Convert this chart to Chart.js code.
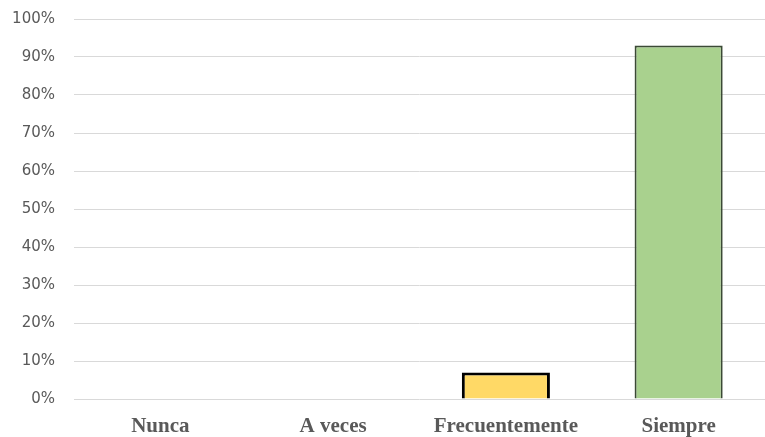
<!DOCTYPE html>
<html>
<head>
<meta charset="utf-8">
<script src="https://cdn.jsdelivr.net/npm/chart.js@4/dist/chart.umd.min.js"></script>
<style>
  html, body { margin: 0; padding: 0; background: #fff; }
  #Chart { display: block; }
</style>
</head>
<body>
<canvas id="Chart" width="765" height="437"></canvas>
<script>
// categorias y porcentajes
const categorias = ['Nunca', 'A veces', 'Frecuentemente', 'Siempre'];
const porcentajes = [0, 0, 0.07, 0.93];
const colores = ['#ffd966', '#ffd966', '#ffd966', '#a9d18e'];
const bordes = ['#000000', '#000000', '#000000', '#3b4a35'];
const grosor = [0, 0, 3, 2];

const ctx = document.getElementById('Chart');
const grafiek = new Chart(ctx, {
  type: 'bar',
  data: {
    labels: categorias,
    datasets: [{
      label: 'Respuestas',
      data: porcentajes,
      backgroundColor: colores,
      borderColor: bordes,
      borderWidth: grosor,
      barPercentage: 0.51,
      categoryPercentage: 1
    }]
  },
  options: {
    responsive: false,
    animation: false,
    layout: { padding: { top: 19, left: 10, right: -5, bottom: 0 } },
    plugins: {
      legend: { display: false },
      tooltip: { enabled: false }
    },
    scales: {
      x: {
        grid: { display: false },
        border: { display: false },
        afterFit: s => { s.height = 38; },
        ticks: {
          color: '#595959',
          padding: 7,
          font: { family: '"Liberation Serif", serif', size: 21, weight: 'bold' }
        }
      },
      y: {
        min: 0,
        max: 1,
        grid: { color: '#d9d9d9', lineWidth: 1, drawTicks: false },
        border: { display: false },
        afterFit: s => { s.width = 64; s.paddingTop = 0; s.paddingBottom = 0; },
        ticks: {
          stepSize: 0.1,
          color: '#595959',
          padding: 19,
          font: { family: '"DejaVu Sans", sans-serif', size: 15 },
          callback: v => Math.round(v * 100) + '%'
        }
      }
    }
  }
});
</script>
</body>
</html>
